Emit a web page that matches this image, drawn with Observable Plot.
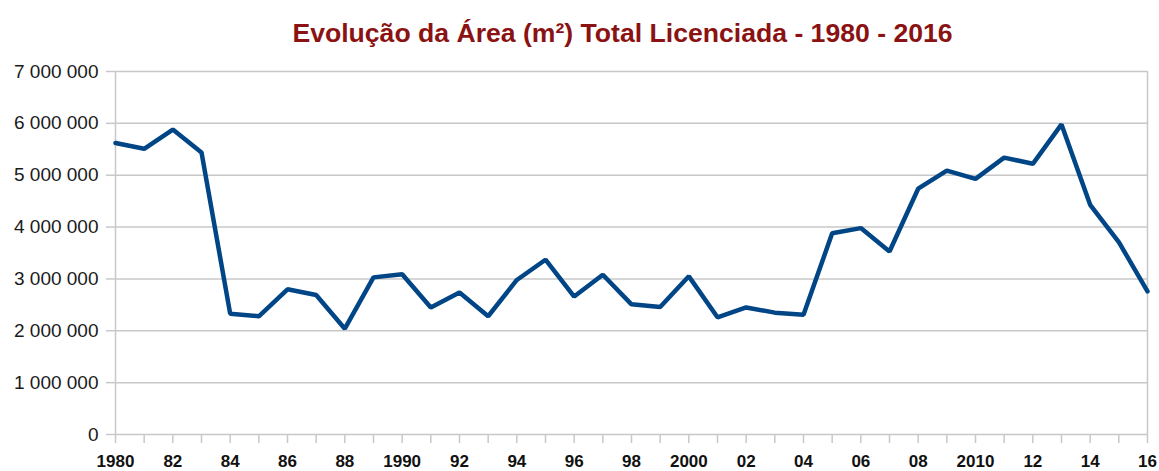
<!DOCTYPE html>
<html>
<head>
<meta charset="utf-8">
<script src="https://cdn.jsdelivr.net/npm/d3@7"></script>
<script src="https://cdn.jsdelivr.net/npm/@observablehq/plot@0.6"></script>
<style>
  body { margin: 0; background: #fff; }
  #title {
    width: 1159px; height: 60px; box-sizing: border-box;
    padding-top: 20px; padding-left: 0;
    font-family: "Liberation Sans Narrow", "Liberation Sans", Arial, sans-serif;
    font-weight: bold; font-size: 26.6px; line-height: 26px;
    color: #8b1212; text-align: center; text-indent: 86px;
  }
</style>
</head>
<body>
<div id="title">Evolução da Área (m²) Total Licenciada - 1980 - 2016</div>
<div id="chart"></div>
<script>
const years = [1980,1981,1982,1983,1984,1985,1986,1987,1988,1989,
               1990,1991,1992,1993,1994,1995,1996,1997,1998,1999,
               2000,2001,2002,2003,2004,2005,2006,2007,2008,2009,
               2010,2011,2012,2013,2014,2015,2016];
const area = [5620000,5510000,5880000,5440000,2330000,2280000,2800000,2690000,2040000,3030000,
              3090000,2450000,2740000,2280000,2980000,3370000,2660000,3080000,2510000,2460000,
              3050000,2260000,2450000,2350000,2310000,3880000,3980000,3530000,4740000,5090000,
              4930000,5340000,5220000,5980000,4430000,3710000,2760000];
const yTicks = [0,1000000,2000000,3000000,4000000,5000000,6000000,7000000];
const data = years.map((y, i) => ({year: y, value: area[i]}));

const fmtY = v => d3.format(",")(v).replace(/,/g, " ");
const fmtX = y => (y % 2 !== 0) ? "" : (y % 10 === 0 ? String(y) : String(y % 100).padStart(2, "0"));

const gridColor = "#c8c8c8";

const chart = Plot.plot({
  width: 1159,
  height: 411,
  marginTop: 11,
  marginBottom: 37,
  marginLeft: 115,
  marginRight: 12,
  x: {domain: [1980, 2016]},
  y: {domain: [0, 7000000]},
  marks: [
    Plot.ruleY(yTicks, {stroke: gridColor, strokeWidth: 1.5}),
    Plot.ruleX([1980, 2016], {stroke: gridColor, strokeWidth: 1.5}),
    Plot.axisY({
      ticks: yTicks, tickFormat: fmtY, tickSize: 9, tickPadding: 8,
      stroke: gridColor, strokeWidth: 1.5, strokeOpacity: 1,
      fontSize: 19, fill: "#1a1a1a", label: null,
      fontFamily: "Liberation Sans, Arial, sans-serif"
    }),
    Plot.axisX({
      ticks: years, tickFormat: fmtX, tickSize: 9, tickPadding: 11,
      stroke: gridColor, strokeWidth: 1.5, strokeOpacity: 1,
      fontSize: 17, fontWeight: "bold", fill: "#111", label: null,
      fontFamily: "Liberation Sans Narrow, Liberation Sans, Arial, sans-serif"
    }),
    Plot.line(data, {x: "year", y: "value", stroke: "#004586", strokeWidth: 4.5, strokeLinejoin: "miter"})
  ]
});
document.getElementById("chart").appendChild(chart);
</script>
</body>
</html>
